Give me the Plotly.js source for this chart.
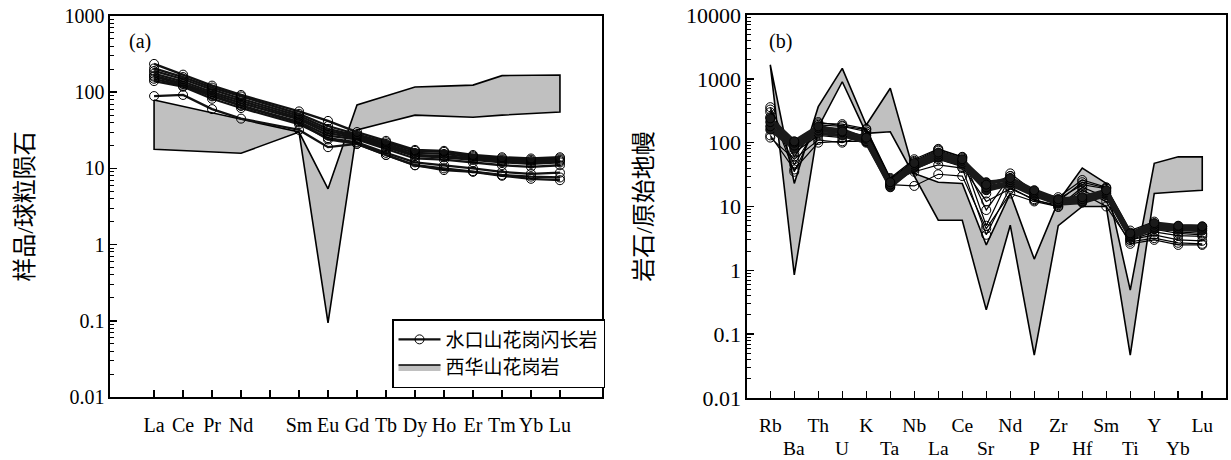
<!DOCTYPE html>
<html>
<head>
<meta charset="utf-8">
<script src="https://cdn.plot.ly/plotly-3.0.1.min.js"></script>
<style>
  html, body { margin: 0; padding: 0; background: #fff; }
  #chart { width: 1231px; height: 460px; }
</style>
</head>
<body>
<div id="chart"></div>
<script>
// ---------- (a) REE, chondrite-normalised ----------
const reeLabels = ["La","Ce","Pr","Nd","","Sm","Eu","Gd","Tb","Dy","Ho","Er","Tm","Yb","Lu"];
// 水口山花岗闪长岩 samples (null = Pm, not analysed)
const reeS1 = [235,170,122,92,null,56,42,30,23,17.5,17,15,14,13.5,14];
const reeS2 = [205,158,115,88,null,52,36,28,22,17,16.5,14.5,13.5,13,13.5];
const reeS3 = [190,148,108,82,null,49,33,27,21,16,15.5,14,13,12.5,13];
const reeS4 = [175,138,100,77,null,46,31,26,20,15,14.5,13.5,12.5,12,12.5];
const reeS5 = [165,130,95,72,null,44,29,25,19,14.5,14,13,12,11.5,12];
const reeS6 = [150,122,88,67,null,41,27,24,18,13.5,13,12,11,10.5,11];
const reeS7 = [140,118,82,62,null,38,25,22,16,12,11,10,9,8.5,8.8];
const reeS8 = [160,128,90,66,null,40,24,21,15,11,10,9.2,8.2,7.8,7.6];
const reeS9 = [89,92,60,45,null,32,19,21,15,11,9.5,9,8,7.3,7.0];
// 西华山花岗岩 field
const reeFieldUpper = [79,65,54,44,null,30,5.4,68,89,117,120,124,165,168,168];
const reeFieldLower = [17.8,17,16.4,15.8,null,30,0.094,32,40,50,48,47,50,53,55];

// ---------- (b) spider, primitive-mantle-normalised ----------
const spLabels = ["Rb","Ba","Th","U","K","Ta","Nb","La","Ce","Sr","Nd","P","Zr","Hf","Sm","Ti","Y","Yb","Lu"];
// filled-symbol samples
const spF1 = [210,100,170,160,115,22,45,65,52,24,26,17,12,13,17,3.6,5.2,4.9,4.8];
const spF2 = [180,90,155,145,105,20,42,60,48,20,24,16,11.5,12,16,3.4,4.8,4.6,4.5];
const spF3 = [240,105,180,150,120,24,48,70,55,22,28,18,13,14,18,3.8,5.5,5.0,4.9];
const spF4 = [160,80,140,130,100,21,40,58,45,18,22,15,11,11.5,15,3.2,4.5,4.3,4.2];
// open-symbol samples
const spO1 = [360,60,200,195,165,28,55,80,60,16,33,17,14,26,20,4.2,5.8,4.0,3.8];
const spO2 = [300,45,190,180,150,26,50,75,57,8.8,30,14,13,22,19,3.0,4.0,3.5,3.4];
const spO3 = [130,38,100,105,105,22,21,32,30,4.5,16,12,10,18,12,2.6,3.0,2.5,2.5];
const spO4 = [120,55,110,100,130,25,35,45,40,3.6,20,12.5,10.5,16,10,2.8,3.2,2.7,2.6];
const spO5 = [250,70,130,120,140,23,38,55,42,12,19,13,9.8,20,14,3.0,3.6,3.0,2.9];
const spO6 = [330,35,210,185,160,27,52,78,59,5,30,15,12,24,19.5,3.9,4.4,3.8,3.6];
// 西华山花岗岩 field
const spFieldUpper = [1650,23,366,1460,189,711,33,24,23,2.5,16,1.5,12,40,23,0.49,47.5,60,60];
const spFieldLower = [1650,0.85,175,900,140,148,null,6.1,6.1,0.24,5.1,0.047,5,10,10,0.047,16,17,18];

const nameSample = "水口山花岗闪长岩";
const nameField = "西华山花岗岩";

// ---------- helpers ----------
function idx(arr){ return arr.map((_, i) => i); }
function polygon(upper, lower){
  const xs = [], ys = [];
  upper.forEach((v, i) => { if (v !== null) { xs.push(i); ys.push(v); } });
  for (let i = lower.length - 1; i >= 0; i--) { if (lower[i] !== null) { xs.push(i); ys.push(lower[i]); } }
  xs.push(xs[0]); ys.push(ys[0]);
  return {xs, ys};
}
function minorVals(lo, hi){
  const out = [];
  for (let e = lo; e < hi; e++) for (let m = 2; m <= 9; m++) out.push(m * Math.pow(10, e));
  return out;
}

const SERIF = "Liberation Serif, 'Noto Sans CJK SC', serif";
const traces = [];

// (a) field
const pa = polygon(reeFieldUpper, reeFieldLower);
traces.push({
  x: pa.xs, y: pa.ys, xaxis: 'x', yaxis: 'y', type: 'scatter', mode: 'lines',
  fill: 'toself', fillcolor: '#c0c0c0', line: {color: '#000', width: 1.6},
  name: nameField, legendrank: 2, hoverinfo: 'skip'
});
// (a) samples
[reeS9, reeS8, reeS7, reeS6, reeS5, reeS4, reeS3, reeS2, reeS1].forEach((s, k) => {
  traces.push({
    x: idx(s), y: s, xaxis: 'x', yaxis: 'y', type: 'scatter', mode: 'lines+markers',
    connectgaps: true,
    line: {color: '#111', width: 2.3},
    marker: {symbol: 'circle-open', size: 9, color: '#000', line: {width: 1}},
    name: nameSample, legendrank: 1, showlegend: k === 0
  });
});

// (b) field
const pb = polygon(spFieldUpper, spFieldLower);
traces.push({
  x: pb.xs, y: pb.ys, xaxis: 'x2', yaxis: 'y2', type: 'scatter', mode: 'lines',
  fill: 'toself', fillcolor: '#c0c0c0', line: {color: '#000', width: 1.6},
  name: nameField, showlegend: false, hoverinfo: 'skip'
});
// (b) open samples
[spO1, spO2, spO3, spO4, spO5, spO6].forEach(s => {
  traces.push({
    x: idx(s), y: s, xaxis: 'x2', yaxis: 'y2', type: 'scatter', mode: 'lines+markers',
    line: {color: '#000', width: 1.2},
    marker: {symbol: 'circle-open', size: 9, color: '#000', line: {width: 1}},
    name: nameSample, showlegend: false
  });
});
// (b) filled samples
[spF4, spF2, spF1, spF3].forEach(s => {
  traces.push({
    x: idx(s), y: s, xaxis: 'x2', yaxis: 'y2', type: 'scatter', mode: 'lines+markers',
    line: {color: '#1a1a1a', width: 3.5},
    marker: {symbol: 'circle', size: 9, color: '#1a1a1a', line: {width: 1, color: '#000'}},
    name: nameSample, showlegend: false
  });
});

const W = 1231, H = 460;
const axisCommon = {
  showline: true, linecolor: '#000', linewidth: 1.6, mirror: true,
  ticks: 'inside', ticklen: 7, tickwidth: 1.5, tickcolor: '#000',
  showgrid: false, zeroline: false, fixedrange: true
};

const layout = {
  width: W, height: H,
  margin: {l: 0, r: 0, t: 0, b: 0},
  paper_bgcolor: '#fff', plot_bgcolor: 'rgba(0,0,0,0)',
  font: {family: SERIF, color: '#000', size: 19},
  showlegend: true,
  legend: {
    x: 392 / W, y: (H - 353.5) / H, xanchor: 'left', yanchor: 'middle',
    bgcolor: '#fff', bordercolor: '#000', borderwidth: 1.5,
    font: {family: SERIF, size: 19, color: '#000'},
    itemwidth: 42,
    tracegroupgap: 0
  },
  xaxis: Object.assign({}, axisCommon, {
    domain: [110 / W, 602 / W], anchor: 'y',
    range: [-1.52, 15.45],
    tickmode: 'array', tickvals: idx(reeLabels), ticktext: reeLabels,
    tickfont: {family: SERIF, size: 20, color: '#000'},
    ticklabelstandoff: 9
  }),
  yaxis: Object.assign({}, axisCommon, {
    domain: [(H - 397) / H, (H - 16) / H], anchor: 'x',
    type: 'log', range: [-2, 3],
    tickmode: 'array', tickvals: [0.01, 0.1, 1, 10, 100, 1000], ticktext: ["0.01","0.1","1","10","100","1000"],
    tickfont: {family: SERIF, size: 20, color: '#000'},
    minor: {tickmode: 'array', tickvals: minorVals(-2, 3), ticks: 'inside', ticklen: 4, tickwidth: 1, tickcolor: '#000', showgrid: false},
    title: {text: "样品/球粒陨石", font: {family: SERIF, size: 24, color: '#000'}, standoff: 24}
  }),
  xaxis2: Object.assign({}, axisCommon, {
    domain: [747 / W, 1226 / W], anchor: 'y2',
    range: [-0.97, 18.99],
    tickmode: 'array', tickvals: idx(spLabels),
    ticktext: spLabels.map((l, i) => i % 2 === 0 ? l : ''),
    tickfont: {family: SERIF, size: 19.5, color: '#000'},
    ticklabelstandoff: 9
  }),
  yaxis2: Object.assign({}, axisCommon, {
    domain: [(H - 398) / H, (H - 15) / H], anchor: 'x2',
    type: 'log', range: [-2, 4],
    tickmode: 'array', tickvals: [0.01, 0.1, 1, 10, 100, 1000, 10000], ticktext: ["0.01","0.1","1","10","100","1000","10000"],
    tickfont: {family: SERIF, size: 22, color: '#000'},
    minor: {tickmode: 'array', tickvals: minorVals(-2, 4), ticks: 'inside', ticklen: 4, tickwidth: 1, tickcolor: '#000', showgrid: false},
    title: {text: "岩石/原始地幔", font: {family: SERIF, size: 24, color: '#000'}, standoff: 26}
  }),
  annotations: [
    {text: "(a)", xref: 'paper', yref: 'paper', x: 140 / W, y: (H - 41) / H, xanchor: 'center', yanchor: 'middle',
     showarrow: false, font: {family: SERIF, size: 20, color: '#000'}},
    {text: "(b)", xref: 'paper', yref: 'paper', x: 780 / W, y: (H - 41) / H, xanchor: 'center', yanchor: 'middle',
     showarrow: false, font: {family: SERIF, size: 20, color: '#000'}}
  ].concat(spLabels.map((l, i) => i % 2 === 1 ? {
    text: l, xref: 'x2', yref: 'paper', x: i, y: (H - 448) / H, yanchor: 'middle', xanchor: 'center',
    showarrow: false, font: {family: SERIF, size: 19.5, color: '#000'}
  } : null).filter(a => a))
};

Plotly.newPlot('chart', traces, layout, {displayModeBar: false, staticPlot: true});
</script>
</body>
</html>
